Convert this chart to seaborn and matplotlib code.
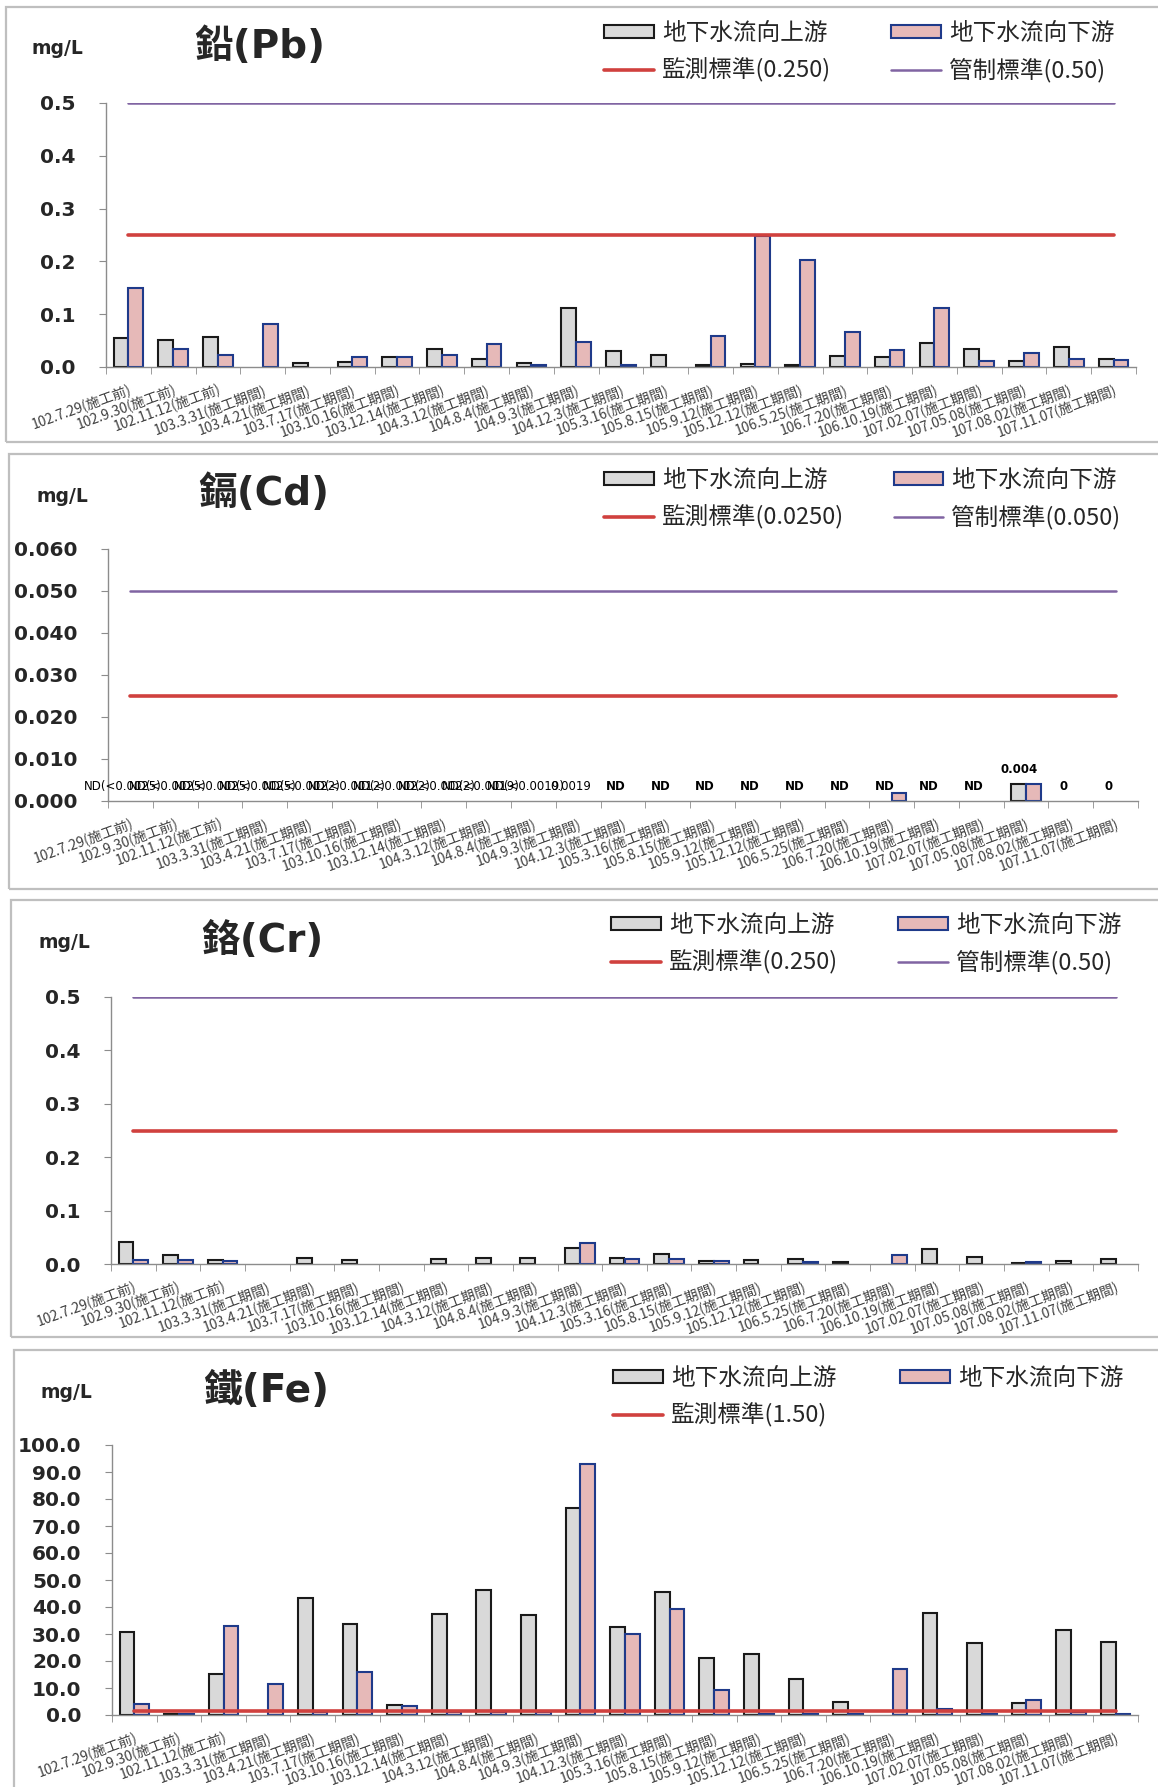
import numpy as np
import pandas as pd
import seaborn as sns
import matplotlib.pyplot as plt
from matplotlib.patches import Patch, Rectangle
from matplotlib.lines import Line2D
from matplotlib.ticker import FixedLocator, FormatStrFormatter

nan = np.nan

dates = [
    "102.7.29(施工前)", "102.9.30(施工前)", "102.11.12(施工前)",
    "103.3.31(施工期間)", "103.4.21(施工期間)", "103.7.17(施工期間)",
    "103.10.16(施工期間)", "103.12.14(施工期間)", "104.3.12(施工期間)",
    "104.8.4(施工期間)", "104.9.3(施工期間)", "104.12.3(施工期間)",
    "105.3.16(施工期間)", "105.8.15(施工期間)", "105.9.12(施工期間)",
    "105.12.12(施工期間)", "106.5.25(施工期間)", "106.7.20(施工期間)",
    "106.10.19(施工期間)", "107.02.07(施工期間)", "107.05.08(施工期間)",
    "107.08.02(施工期間)", "107.11.07(施工期間)",
]

UP = "地下水流向上游"
DOWN = "地下水流向下游"

# 鉛(Pb)
pb_up = [0.054, 0.051, 0.057, nan, 0.008, 0.009, 0.018, 0.035, 0.016, 0.008, 0.112,
         0.030, 0.022, 0.004, 0.006, 0.003, 0.021, 0.019, 0.045, 0.035, 0.011, 0.038, 0.016]
pb_down = [0.150, 0.035, 0.023, 0.081, nan, 0.018, 0.018, 0.023, 0.043, 0.004, 0.048,
           0.003, nan, 0.059, 0.248, 0.202, 0.066, 0.033, 0.112, 0.011, 0.026, 0.016, 0.013]

# 鎘(Cd)
cd_up = [nan] * 20 + [0.004, nan, nan]
cd_down = [nan] * 17 + [0.002, nan, nan, 0.004, nan, nan]
cd_labels = [
    "ND(<0.0025)", "ND(<0.0025)", "ND(<0.0025)", "ND(<0.0025)", "ND(<0.0022)",
    "ND(<0.0012)", "ND(<0.0022)", "ND(<0.0022)", "ND(<0.0019)", "ND(<0.0019)",
    "0.0019", "ND", "ND", "ND", "ND", "ND", "ND", "ND", "ND", "ND",
    "0.004", "0", "0",
]

# 鉻(Cr)
cr_up = [0.041, 0.017, 0.0075, nan, 0.011, 0.0075, nan, 0.009, 0.011, 0.011, 0.030,
         0.012, 0.018, 0.006, 0.007, 0.009, 0.004, nan, 0.028, 0.0125, 0.002, 0.006, 0.009]
cr_down = [0.0075, 0.0075, 0.0056, nan, nan, nan, nan, nan, nan, nan, 0.039,
           0.009, 0.009, 0.006, nan, 0.004, nan, 0.016, nan, nan, 0.003, nan, nan]

# 鐵(Fe)
fe_up = [30.9, 0.2, 15.3, nan, 43.2, 33.6, 3.7, 37.3, 46.4, 36.9, 76.5,
         32.5, 45.4, 21.0, 22.6, 13.2, 4.8, nan, 37.8, 26.8, 4.3, 31.5, 27.2]
fe_down = [4.0, 0.2, 33.0, 11.5, 1.0, 16.0, 3.3, 1.0, 1.0, 1.0, 92.8,
           30.0, 39.1, 9.1, 0.5, 0.2, 0.5, 17.0, 2.3, 0.5, 5.6, 1.0, 0.3]

# standards: (label, value)
pb_std = [("監測標準(0.250)", 0.25), ("管制標準(0.50)", 0.50)]
cd_std = [("監測標準(0.0250)", 0.025), ("管制標準(0.050)", 0.050)]
cr_std = [("監測標準(0.250)", 0.25), ("管制標準(0.50)", 0.50)]
fe_std = [("監測標準(1.50)", 1.5)]

GRAY = "#D9D9D9"
PINK = "#E6B9B8"
NAVY = "#1F3A8A"
RED = "#D0413E"
PURPLE = "#8064A2"
STD_STYLE = [(RED, 2.6), (PURPLE, 1.8)]

W, H = 1158, 1787

sns.set_style("white")
plt.rcParams["font.family"] = ["DejaVu Sans", "Noto Sans CJK TC"]
CJK = ["Noto Sans CJK TC", "DejaVu Sans"]


def fig_rect(x0, y0, x1, y1):
    return [x0 / W, 1 - y1 / H, (x1 - x0) / W, (y1 - y0) / H]


def draw_panel(fig, box, axbox, title, title_xy, unit_xy, leg_xy, colspace,
               up, down, std, ylim, yticks, fmt):
    x0, y0, x1, y1 = box
    fig.patches.append(Rectangle((x0 / W, 1 - y1 / H), (x1 - x0) / W, (y1 - y0) / H,
                                 transform=fig.transFigure, fill=False,
                                 edgecolor="#BFBFBF", linewidth=1.6))
    ax = fig.add_axes(fig_rect(*axbox))
    n = len(dates)
    df = pd.DataFrame({
        "日期": dates * 2,
        "濃度": list(up) + list(down),
        "測站": [UP] * n + [DOWN] * n,
    })
    sns.barplot(data=df, x="日期", y="濃度", hue="測站", hue_order=[UP, DOWN],
                palette=[GRAY, PINK], saturation=1, width=0.66, errorbar=None,
                legend=False, ax=ax)
    for cont, ec in zip(ax.containers, ["#1A1A1A", NAVY]):
        for bar in cont:
            bar.set_edgecolor(ec)
            bar.set_linewidth(1.5)

    xs = np.arange(n)
    handles = [Patch(facecolor=GRAY, edgecolor="#1A1A1A", linewidth=1.5)]
    labels = [UP]
    std_handles = []
    for (lab, val), (col, lw) in zip(std, STD_STYLE):
        ax.plot(xs, np.full(n, val), color=col, linewidth=lw, zorder=4)
        std_handles.append((Line2D([], [], color=col, linewidth=lw), lab))
    handles.append(std_handles[0][0])
    labels.append(std_handles[0][1])
    handles.append(Patch(facecolor=PINK, edgecolor=NAVY, linewidth=1.5))
    labels.append(DOWN)
    if len(std_handles) > 1:
        handles.append(std_handles[1][0])
        labels.append(std_handles[1][1])

    ax.set_xlim(-0.5, n - 0.5)
    ax.set_ylim(*ylim)
    ax.set_yticks(yticks)
    ax.yaxis.set_major_formatter(FormatStrFormatter(fmt))
    ax.set_xlabel("")
    ax.set_ylabel("")
    for s in ["top", "right"]:
        ax.spines[s].set_visible(False)
    for s in ["left", "bottom"]:
        ax.spines[s].set_color("#8C8C8C")
        ax.spines[s].set_linewidth(1.0)
    ax.tick_params(axis="y", left=True, length=5, color="#8C8C8C", pad=17,
                   labelsize=14.5)
    for t in ax.get_yticklabels():
        t.set_fontweight("bold")
    ax.set_xticks(xs)
    ax.set_xticklabels(dates, rotation=20, ha="right", va="top",
                       rotation_mode="anchor", fontsize=10, color="#404040",
                       family=CJK)
    ax.tick_params(axis="x", which="major", length=0, pad=11)
    ax.xaxis.set_minor_locator(FixedLocator(np.arange(-0.5, n, 1.0)))
    ax.tick_params(axis="x", which="minor", bottom=True, length=5,
                   color="#8C8C8C")

    fig.text(title_xy[0] / W, 1 - title_xy[1] / H, title, ha="center",
             va="center", fontsize=28, fontweight="bold")
    fig.text(unit_xy[0] / W, 1 - unit_xy[1] / H, "mg/L", ha="center",
             va="center", fontsize=13.5, fontweight="bold")
    ax.legend(handles, labels, ncol=2, loc="upper left",
              bbox_to_anchor=(leg_xy[0] / W, 1 - leg_xy[1] / H),
              bbox_transform=fig.transFigure, frameon=False, borderpad=0,
              borderaxespad=0, handlelength=2.1, handleheight=0.5,
              handletextpad=0.35, labelspacing=0.55, columnspacing=colspace,
              prop={"family": CJK, "size": 17})
    return ax


fig = plt.figure(figsize=(W / 100, H / 100), dpi=100)

draw_panel(fig, (6, 7, 1200, 442), (106, 103, 1136, 367), "鉛(Pb)",
           (260, 47), (57, 49), (604, 22), 2.55, pb_up, pb_down, pb_std,
           (0, 0.5), np.arange(0, 0.51, 0.1), "%.1f")

ax_cd = draw_panel(fig, (9, 454, 1200, 889), (108, 549, 1138, 801), "鎘(Cd)",
                   (264, 494), (62, 496), (604, 469), 2.1, cd_up, cd_down, cd_std,
                   (0, 0.06), np.arange(0, 0.061, 0.01), "%.3f")
offset = -0.66 / 4
for i, lab in enumerate(cd_labels):
    yv = np.nan_to_num(cd_up[i])
    ax_cd.annotate(lab, (i + offset, yv), xytext=(0, 6), textcoords="offset points",
                   ha="center", va="bottom", fontsize=8.5, color="black",
                   fontweight="bold" if lab in ("ND", "0", "0.004") else "normal")

draw_panel(fig, (11, 900, 1200, 1337), (111, 997, 1138, 1264), "鉻(Cr)",
           (262, 941), (64, 942), (611, 914), 2.55, cr_up, cr_down, cr_std,
           (0, 0.5), np.arange(0, 0.51, 0.1), "%.1f")

draw_panel(fig, (14, 1350, 1200, 1800), (112, 1445, 1138, 1715), "鐵(Fe)",
           (266, 1391), (66, 1392), (613, 1367), 2.7, fe_up, fe_down, fe_std,
           (0, 100), np.arange(0, 101, 10), "%.1f")

fig.savefig("out.png", dpi=100, facecolor="white")
